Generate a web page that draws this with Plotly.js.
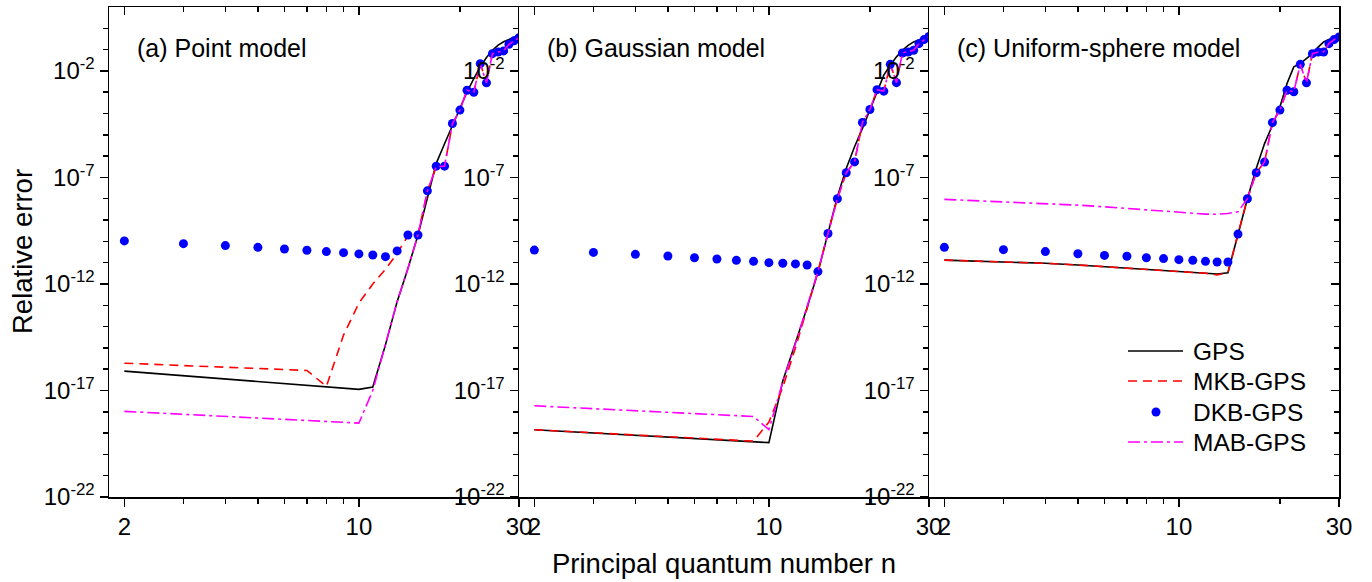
<!DOCTYPE html>
<html>
<head>
<meta charset="utf-8">
<script src="https://cdn.plot.ly/plotly-3.0.1.min.js"></script>
<style>html,body{margin:0;padding:0;background:#fff;}#chart{width:1372px;height:582px;}</style>
</head>
<body>
<div id="chart"></div>
<script>
// Principal quantum number n
const nValues = [2,3,4,5,6,7,8,9,10,11,12,13,14,15,16,17,18,19,20,21,22,23,24,25,26,27,28,29,30];

// log10(relative error)
// (a) Point model
const pointGPS = [-16.09,-16.31,-16.46,-16.58,-16.68,-16.76,-16.83,-16.89,-16.95,-16.84,-14.86,-12.83,-11.27,-9.70,-7.90,-6.34,-5.42,-4.56,-3.77,-2.99,-2.36,-1.81,-1.37,-1.03,-0.79,-0.63,-0.53,-0.43,-0.32];
const pointMKB = [-15.72,-15.83,-15.91,-15.97,-16.02,-16.06,-16.81,-14.40,-12.90,-12.00,-11.31,-10.56,-9.75,-9.70,-7.64,-6.50,-6.47,-4.47,-3.84,-2.91,-3.00,-1.66,-2.56,-1.19,-1.11,-1.06,-0.75,-0.59,-0.44];
const pointDKB = [-9.98,-10.11,-10.20,-10.28,-10.36,-10.42,-10.48,-10.53,-10.59,-10.64,-10.72,-10.45,-9.70,-9.70,-7.63,-6.47,-6.47,-4.47,-3.84,-2.91,-3.00,-1.66,-2.56,-1.19,-1.11,-1.06,-0.75,-0.59,-0.44];
const pointMAB = [-17.98,-18.12,-18.22,-18.29,-18.36,-18.41,-18.45,-18.49,-18.53,-17.00,-14.86,-12.83,-11.27,-9.70,-7.64,-6.50,-6.47,-4.47,-3.84,-2.91,-3.00,-1.66,-2.56,-1.19,-1.11,-1.06,-0.75,-0.59,-0.44];

// (b) Gaussian model
const gaussGPS = [-18.84,-18.99,-19.10,-19.18,-19.25,-19.31,-19.36,-19.41,-19.45,-16.55,-14.80,-13.10,-11.45,-9.63,-7.90,-6.58,-5.56,-4.70,-3.84,-2.98,-2.20,-1.73,-1.34,-1.03,-0.80,-0.64,-0.56,-0.45,-0.33];
const gaussMKB = [-18.84,-18.99,-19.10,-19.18,-19.25,-19.31,-19.36,-19.38,-18.48,-16.85,-15.00,-13.20,-11.42,-9.63,-8.00,-6.78,-6.27,-4.42,-3.81,-2.88,-2.95,-1.69,-2.55,-1.16,-1.11,-1.03,-0.72,-0.53,-0.38];
const gaussDKB = [-10.41,-10.52,-10.61,-10.69,-10.77,-10.83,-10.89,-10.94,-11.00,-11.03,-11.06,-11.11,-11.42,-9.63,-8.00,-6.78,-6.27,-4.42,-3.81,-2.88,-2.95,-1.69,-2.55,-1.16,-1.11,-1.03,-0.72,-0.53,-0.38];
const gaussMAB = [-17.72,-17.85,-17.95,-18.03,-18.09,-18.14,-18.18,-18.22,-18.84,-16.60,-14.80,-13.10,-11.42,-9.63,-8.00,-6.78,-6.27,-4.42,-3.81,-2.88,-2.95,-1.69,-2.55,-1.16,-1.11,-1.03,-0.72,-0.53,-0.38];

// (c) Uniform-sphere model
const sphereGPS = [-10.88,-10.96,-11.03,-11.11,-11.19,-11.28,-11.34,-11.39,-11.42,-11.47,-11.50,-11.53,-11.47,-9.63,-8.00,-6.58,-5.41,-4.55,-3.69,-2.59,-1.81,-1.66,-1.42,-1.19,-0.88,-0.64,-0.53,-0.44,-0.33];
const sphereMKB = [-10.88,-10.96,-11.03,-11.11,-11.19,-11.28,-11.34,-11.39,-11.42,-11.47,-11.50,-11.58,-11.47,-9.66,-8.00,-6.78,-6.28,-4.42,-3.84,-2.91,-2.98,-1.69,-2.56,-1.19,-1.11,-1.11,-0.72,-0.53,-0.41];
const sphereDKB = [-10.28,-10.39,-10.48,-10.58,-10.66,-10.70,-10.77,-10.81,-10.86,-10.89,-10.94,-10.97,-10.97,-9.66,-8.00,-6.78,-6.28,-4.42,-3.84,-2.91,-2.98,-1.69,-2.56,-1.19,-1.11,-1.11,-0.72,-0.53,-0.41];
const sphereMAB = [-8.03,-8.14,-8.22,-8.30,-8.38,-8.45,-8.53,-8.58,-8.64,-8.69,-8.72,-8.73,-8.69,-8.61,-8.00,-6.78,-6.28,-4.42,-3.84,-2.91,-2.98,-1.69,-2.56,-1.19,-1.11,-1.11,-0.72,-0.53,-0.41];

const seriesNames = ["GPS","MKB-GPS","DKB-GPS","MAB-GPS"];
const panelLabels = ["(a) Point model","(b) Gaussian model","(c) Uniform-sphere model"];
const xTickVals = [2,10,30];
const xTickText = ["2","10","30"];
const xMinorVals = [3,4,5,6,7,8,9,20];
const yTickVals = [1e-22,1e-17,1e-12,1e-7,1e-2];
const yTickText = ["10<sup>-22</sup>","10<sup>-17</sup>","10<sup>-12</sup>","10<sup>-7</sup>","10<sup>-2</sup>"];
const yMinorVals = [1e-21,1e-20,1e-19,1e-18,1e-16,1e-15,1e-14,1e-13,1e-11,1e-10,1e-9,1e-8,1e-6,1e-5,1e-4,1e-3,1e-1,1e0];
const xTitle = "Principal quantum number n";
const yTitle = "Relative error";

const FONT = "Arial, 'Liberation Sans', sans-serif";
const toVal = a => a.map(v => Math.pow(10, v));

const panels = [
  [pointGPS, pointMKB, pointDKB, pointMAB],
  [gaussGPS, gaussMKB, gaussDKB, gaussMAB],
  [sphereGPS, sphereMKB, sphereDKB, sphereMAB]
];

const colors = ["#000000", "#ff0000", "#0000ff", "#ff00ff"];
const dashes = ["solid", "9px,6px", null, "12px,4px,3px,4px"];
const styles = [
  {mode:"lines", line:{color:colors[0], width:1.6}},
  {mode:"lines", line:{color:colors[1], width:1.6, dash:dashes[1]}},
  {mode:"markers", marker:{color:colors[2], size:9}},
  {mode:"lines", line:{color:colors[3], width:1.6, dash:dashes[3]}}
];

const traces = [];
panels.forEach((p, i) => {
  const xa = i === 0 ? "x" : "x" + (i + 1);
  const ya = i === 0 ? "y" : "y" + (i + 1);
  p.forEach((s, j) => {
    traces.push(Object.assign({
      x: nValues, y: toVal(s), xaxis: xa, yaxis: ya,
      name: seriesNames[j], showlegend: false,
      hoverinfo: "skip"
    }, JSON.parse(JSON.stringify(styles[j]))));
  });
});
// dummy traces for overlay frame axes
["x4","x5","x6"].forEach((xa, i) => {
  traces.push({x:[], y:[], xaxis:xa, yaxis: i === 0 ? "y" : "y" + (i + 1), showlegend:false, hoverinfo:"skip", mode:"lines"});
});
traces.push({x:[], y:[], xaxis:"x3", yaxis:"y4", showlegend:false, hoverinfo:"skip", mode:"lines"});

const xr = [Math.log10(1.8), Math.log10(30)];
const yr = [-22, 1];
const domains = [[0, 1/3], [1/3, 2/3], [2/3, 1]];

// pixel helpers for placing the key (plot area: x 109..1339, y 7..497)
const px = v => (v - 109) / 1230;
const py = v => (497 - v) / 490;

const layout = {
  width: 1372, height: 582,
  margin: {l:109, r:33, t:7, b:85, pad:0},
  paper_bgcolor: "#ffffff", plot_bgcolor: "rgba(0,0,0,0)",
  font: {family: FONT, size: 24, color: "#000"},
  showlegend: false,
  annotations: [],
  shapes: []
};

function xAxisBase(i) {
  return {
    type: "log", range: xr, domain: domains[i], anchor: i === 0 ? "y" : "y" + (i + 1),
    showgrid: false, zeroline: false, showline: true, linecolor: "#000", linewidth: 1.5,
    ticks: "outside", ticklen: 8, tickwidth: 1.5, tickcolor: "#000",
    tickvals: xTickVals, ticktext: xTickText, tickfont: {family: FONT, size: 24},
    minor: {tickvals: xMinorVals, ticks: "outside", ticklen: 5, tickwidth: 1.5, tickcolor: "#000", showgrid: false},
    fixedrange: true
  };
}
function yAxisBase(i) {
  return {
    type: "log", range: yr, domain: [0, 1], anchor: i === 0 ? "x" : "x" + (i + 1),
    showgrid: false, zeroline: false, showline: true, linecolor: "#000", linewidth: 1.5,
    ticks: "outside", ticklen: 8, tickwidth: 1.5, tickcolor: "#000",
    tickvals: yTickVals, ticktext: yTickText, tickfont: {family: FONT, size: 24},
    minor: {tickvals: yMinorVals, ticks: "outside", ticklen: 5, tickwidth: 1.5, tickcolor: "#000", showgrid: false},
    fixedrange: true
  };
}
for (let i = 0; i < 3; i++) {
  const k = i === 0 ? "" : String(i + 1);
  layout["xaxis" + k] = xAxisBase(i);
  layout["yaxis" + k] = yAxisBase(i);
  const top = xAxisBase(i);
  top.overlaying = i === 0 ? "x" : "x" + (i + 1);
  top.side = "top";
  top.ticks = "inside";
  top.minor.ticks = "inside";
  top.showticklabels = false;
  layout["xaxis" + (i + 4)] = top;
  layout.annotations.push({
    text: panelLabels[i], xref: "paper", yref: "paper",
    x: px([135, 545, 955][i]), y: py(48), xanchor: "left", yanchor: "middle",
    showarrow: false, font: {family: FONT, size: 25, color: "#000"}
  });
}
const rightY = yAxisBase(2);
rightY.overlaying = "y3";
rightY.side = "right";
rightY.ticks = "inside";
rightY.minor.ticks = "inside";
rightY.showticklabels = false;
layout.yaxis4 = rightY;

layout.annotations.push({
  text: xTitle, xref: "paper", yref: "paper", x: 0.5, y: py(563),
  xanchor: "center", yanchor: "middle", showarrow: false,
  font: {family: FONT, size: 27.5, color: "#000"}
});
layout.annotations.push({
  text: yTitle, xref: "paper", yref: "paper", x: px(22), y: 0.5,
  xanchor: "center", yanchor: "middle", textangle: -90, showarrow: false,
  font: {family: FONT, size: 27.5, color: "#000"}
});

// key (legend) in panel (c)
const keyRows = [351, 381, 412, 442];
seriesNames.forEach((name, j) => {
  const yy = py(keyRows[j]);
  if (j === 2) {
    layout.shapes.push({type: "circle", xref: "paper", yref: "paper",
      xsizemode: "pixel", ysizemode: "pixel", xanchor: px(1156), yanchor: yy,
      x0: -4.5, x1: 4.5, y0: -4.5, y1: 4.5,
      fillcolor: colors[2], line: {width: 0}});
  } else {
    layout.shapes.push({type: "line", xref: "paper", yref: "paper",
      x0: px(1128), x1: px(1183), y0: yy, y1: yy,
      line: {color: colors[j], width: 1.6, dash: dashes[j]}});
  }
  layout.annotations.push({text: name, xref: "paper", yref: "paper",
    x: px(1191), y: yy, xanchor: "left", yanchor: "middle", showarrow: false,
    font: {family: FONT, size: 24.5, color: "#000"}});
});

Plotly.newPlot("chart", traces, layout, {displayModeBar: false, staticPlot: true});
</script>
</body>
</html>
